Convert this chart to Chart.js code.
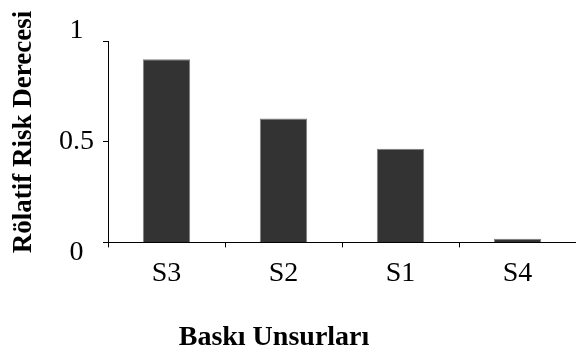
<!DOCTYPE html>
<html>
<head>
<meta charset="utf-8">
<script src="https://cdn.jsdelivr.net/npm/chart.js@4/dist/chart.umd.min.js"></script>
<style>
  body { margin: 0; background: #fff; }
</style>
</head>
<body>
<canvas id="chart1" width="576" height="354"></canvas>
<script>
// values
const categories = ['S3', 'S2', 'S1', 'S4'];
const riskValues = [0.91, 0.615, 0.465, 0.018];
const yTitle = 'Rölatif Risk Derecesi';
const xTitle = 'Baskı Unsurları';

const serif = '"Liberation Serif", "Times New Roman", serif';

// axis titles sit off-centre in the original, so draw them by hand
const axisTitles = {
    id: 'axisTitles',
    afterDraw(chart) {
        const ctx = chart.ctx;
        ctx.save();
        ctx.fillStyle = '#000';
        ctx.font = 'bold 28px ' + serif;
        ctx.textAlign = 'center';
        ctx.textBaseline = 'middle';
        ctx.fillText(xTitle, 274, 338);

        ctx.font = 'bold 27px ' + serif;
        ctx.translate(24, 132);
        ctx.rotate(-Math.PI / 2);
        ctx.fillText(yTitle, 0, 0);
        ctx.restore();
    }
};

var ctx1 = document.getElementById('chart1').getContext('2d');
var riskChart = new Chart(ctx1, {
    type: 'bar',
    data: {
        labels: categories,
        datasets: [{
            data: riskValues,
            backgroundColor: '#333333',
            borderColor: '#7f7f7f',
            borderWidth: 1,
            barPercentage: 0.405,
            categoryPercentage: 1
        }]
    },
    options: {
        responsive: false,
        animation: false,
        layout: {
            padding: { top: 41, right: 0, bottom: 55, left: 0 }
        },
        plugins: {
            legend: { display: false },
            tooltip: { enabled: false }
        },
        scales: {
            x: {
                border: { color: '#000', width: 1 },
                grid: {
                    offset: true,
                    drawOnChartArea: false,
                    color: '#000',
                    tickLength: 5
                },
                ticks: {
                    color: '#000',
                    padding: 9,
                    font: { family: serif, size: 28 }
                }
            },
            y: {
                min: 0,
                max: 1,
                afterFit: function (scale) {
                    scale.width = 108;
                },
                border: { color: '#000', width: 1 },
                grid: {
                    drawOnChartArea: false,
                    color: '#000',
                    tickLength: 5
                },
                ticks: {
                    stepSize: 0.5,
                    color: '#000',
                    padding: 9,
                    crossAlign: 'center',
                    font: { family: serif, size: 28, lineHeight: 0.75 },
                    // the end labels sit a little off their ticks in the original
                    callback: function (value) {
                        if (value === 0) return ['', '0'];
                        if (value === 1) return ['1', ''];
                        return value;
                    }
                }
            }
        }
    },
    plugins: [axisTitles]
});
</script>
</body>
</html>
